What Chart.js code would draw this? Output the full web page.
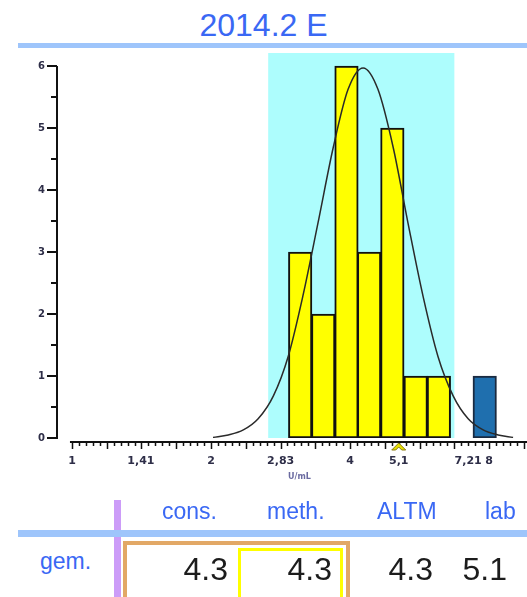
<!DOCTYPE html>
<html>
<head>
<meta charset="utf-8">
<script src="https://cdn.jsdelivr.net/npm/chart.js@4"></script>
<style>
  body { margin: 0; background: #fff; width: 527px; height: 597px; overflow: hidden; position: relative;
         font-family: "Liberation Sans", Arial, sans-serif; }
  .abs { position: absolute; white-space: nowrap; }
  #title { left: 0; top: 9px; width: 527px; text-align: center; font-size: 32px; line-height: 32px; color: #3a68f4; }
  .bar { background: #9ec5fb; }
  .head { font-size: 23px; line-height: 23px; color: #3a68f4; }
  .val { font-size: 32px; line-height: 32px; color: #1c1c1c; }
  #chart { position: absolute; left: 0; top: 0; }
</style>
</head>
<body>
<div id="title" class="abs">2014.2 E</div>
<div class="abs bar" style="left:18px; top:43px; width:509px; height:5px;"></div>
<canvas id="chart" width="527" height="490"></canvas>
<div class="abs" style="left:288px; top:472px; font: bold 8px 'DejaVu Sans'; color:#6a6aa0;">U/mL</div>
<div id="table"></div>

<script>
// histogram bins (U/mL, log scale) and counts
const binCenters = [3.12, 3.50, 3.93, 4.40, 4.94, 5.55, 6.23];
const binCounts = [3, 2, 6, 3, 5, 1, 1];
const labBin = [7.83];
const labCount = [1];

// fitted curve
const curveX = [2.02, 2.18, 2.35, 2.53, 2.73, 2.94, 3.16, 3.41, 3.68, 3.96, 4.27, 4.60, 4.96, 5.34, 5.76, 6.20, 6.69, 7.21, 7.77, 8.37, 9.02];
const curveY = [0.01, 0.05, 0.13, 0.31, 0.68, 1.32, 2.28, 3.47, 4.69, 5.62, 5.97, 5.62, 4.69, 3.47, 2.28, 1.32, 0.68, 0.31, 0.13, 0.05, 0.01];

const xTickValues = [1, 1.41, 2, 2.83, 4, 5.1, 7.21, 8];
const xTickLabels = ['1', '1,41', '2', '2,83', '4', '5,1', '7,21', '8'];
const yTickValues = [0, 1, 2, 3, 4, 5, 6];

const bandLow = 2.66, bandHigh = 6.73;
const labResult = 5.1;

// table below the chart
const colHeads = ['cons.', 'meth.', 'ALTM', 'lab'];
const rowLabel = 'gem.';
const rowValues = [4.3, 4.3, 4.3, 5.1];

const decor = {
  id: 'decor',
  beforeDatasetsDraw(chart) {
    const { ctx, chartArea, scales: { x } } = chart;
    const l = x.getPixelForValue(bandLow), r = x.getPixelForValue(bandHigh);
    ctx.save();
    ctx.fillStyle = '#adfdfd';
    ctx.fillRect(l, chartArea.top, r - l, chartArea.bottom - chartArea.top);
    ctx.restore();
  },
  afterDraw(chart) {
    const { ctx, chartArea, scales: { x, y } } = chart;
    ctx.save();
    ctx.strokeStyle = '#111';
    ctx.lineWidth = 2;
    // y axis with half-step ticks
    const ax = chartArea.left;
    ctx.beginPath();
    ctx.moveTo(ax, y.getPixelForValue(0) + 1);
    ctx.lineTo(ax, y.getPixelForValue(6));
    for (let v = 0; v <= 6; v += 0.5) {
      const py = Math.round(y.getPixelForValue(v));
      ctx.moveTo(ax, py);
      ctx.lineTo(ax - (v % 1 === 0 ? 10 : 6), py);
    }
    ctx.stroke();
    // x axis
    const ay = chartArea.bottom + 4;
    ctx.beginPath();
    ctx.moveTo(x.getPixelForValue(0.99), ay);
    ctx.lineTo(chartArea.right, ay);
    ctx.stroke();
    ctx.lineWidth = 1.5;
    ctx.beginPath();
    for (let i = 0; ; i++) {
      const px = Math.round(x.getPixelForValue(Math.pow(2, i / 20))) + 0.5;
      if (px > chartArea.right) break;
      ctx.moveTo(px, ay);
      ctx.lineTo(px, ay + (i % 5 === 0 ? 7 : 4));
    }
    ctx.stroke();
    // lab result marker
    const mx = x.getPixelForValue(labResult);
    ctx.beginPath();
    ctx.moveTo(mx - 7, ay + 8);
    ctx.lineTo(mx, ay + 1);
    ctx.lineTo(mx + 7, ay + 8);
    ctx.lineTo(mx + 3, ay + 8);
    ctx.lineTo(mx, ay + 5);
    ctx.lineTo(mx - 3, ay + 8);
    ctx.closePath();
    ctx.fillStyle = '#e6e000';
    ctx.fill();
    ctx.lineWidth = 1;
    ctx.strokeStyle = '#8a7a10';
    ctx.stroke();
    ctx.restore();
  }
};

new Chart(document.getElementById('chart'), {
  type: 'bar',
  data: {
    datasets: [
      {
        type: 'line',
        data: curveX.map((v, i) => ({ x: v, y: curveY[i] })),
        borderColor: '#2a2a2a',
        borderWidth: 1.5,
        pointRadius: 0,
        cubicInterpolationMode: 'monotone',
        order: 0
      },
      {
        data: binCenters.map((v, i) => ({ x: v, y: binCounts[i] })),
        backgroundColor: '#ffff00',
        borderColor: '#111',
        borderWidth: 2,
        borderSkipped: false,
        barThickness: 23.5,
        grouped: false,
        order: 1
      },
      {
        data: labBin.map((v, i) => ({ x: v, y: labCount[i] })),
        backgroundColor: '#1f6fae',
        borderColor: '#1a2a40',
        borderWidth: 2,
        borderSkipped: false,
        barThickness: 23.5,
        grouped: false,
        order: 1
      }
    ]
  },
  options: {
    responsive: false,
    animation: false,
    layout: { padding: { top: 53, left: 0, right: 0, bottom: 0 } },
    plugins: { legend: { display: false }, tooltip: { enabled: false } },
    scales: {
      x: {
        type: 'logarithmic',
        min: 0.928,
        max: 9.668,
        offset: false,
        grid: { display: false, drawTicks: false },
        border: { display: false },
        afterBuildTicks: s => { s.ticks = xTickValues.map(v => ({ value: v })); },
        afterFit: s => { s.height = 52; },
        ticks: {
          autoSkip: false,
          maxRotation: 0,
          padding: 17,
          color: '#2e2e48',
          font: { family: 'DejaVu Sans', size: 11, weight: 'bold' },
          callback: (v, i) => xTickLabels[i]
        }
      },
      y: {
        min: 0,
        max: 6.21,
        grid: { display: false, drawTicks: false },
        border: { display: false },
        afterBuildTicks: s => { s.ticks = yTickValues.map(v => ({ value: v })); },
        afterFit: s => { s.width = 57; },
        ticks: {
          padding: 12,
          color: '#2e2e48',
          font: { family: 'DejaVu Sans', size: 10, weight: 'bold' },
          callback: (v, i) => String(yTickValues[i])
        }
      }
    }
  },
  plugins: [decor]
});

// table
const table = document.getElementById('table');
function addDiv(text, style, cls) {
  const d = document.createElement('div');
  d.className = 'abs ' + (cls || '');
  d.setAttribute('style', style);
  d.textContent = text;
  table.appendChild(d);
}
addDiv('', 'left:114px; top:500px; width:7px; height:97px; background:#cc9cf8;');
addDiv('', 'left:18px; top:530px; width:509px; height:7px;', 'bar');
addDiv('', 'left:123px; top:541px; width:227px; height:70px; border:4px solid #e2a866; box-sizing:border-box;');
addDiv('', 'left:238px; top:548px; width:105px; height:60px; border:3px solid #ffff00; box-sizing:border-box;');
const headLeft = [162, 267, 377, 485];
colHeads.forEach((h, i) => addDiv(h, 'left:' + headLeft[i] + 'px; top:500px;', 'head'));
addDiv(rowLabel, 'left:40px; top:550px;', 'head');
const valRight = [228, 332, 433, 507];
rowValues.forEach((v, i) => addDiv(v.toFixed(1), 'left:' + (valRight[i] - 200) + 'px; width:200px; text-align:right; top:553px;', 'val'));
</script>
</body>
</html>
